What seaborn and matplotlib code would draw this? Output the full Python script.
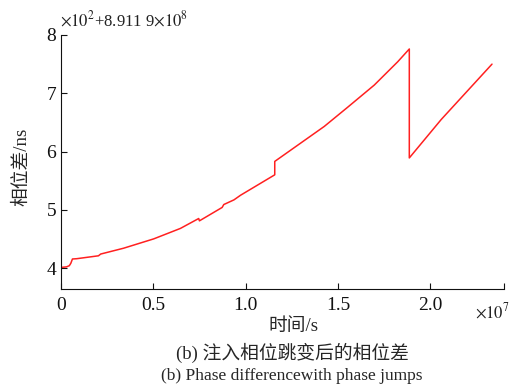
import matplotlib
matplotlib.use("Agg")
import matplotlib.pyplot as plt
import seaborn as sns
import pandas as pd

# time in units of 1e7 s, phase difference in units of 1e2 ns offset
time_e7 = [0, 0.03, 0.045, 0.053, 0.062, 0.085, 0.203, 0.215, 0.339, 0.502,
           0.647, 0.746, 0.750, 0.873, 0.882, 0.937, 0.973, 1.158, 1.158,
           1.426, 1.553, 1.697, 1.824, 1.887, 1.887, 2.06, 2.335]
phase = [4.01, 4.02, 4.04, 4.08, 4.155, 4.16, 4.21, 4.24, 4.34, 4.50,
         4.68, 4.85, 4.81, 5.04, 5.09, 5.17, 5.25, 5.60, 5.83,
         6.43, 6.76, 7.14, 7.54, 7.76, 5.89, 6.55, 7.50]
xticks = [0, 0.5, 1.0, 1.5, 2.0, 2.4]
xticklabels = ["0", "0.5", "1.0", "1.5", "2.0", ""]
yticks = [4, 5, 6, 7, 8]

sns.set_theme(style="ticks")
plt.rcParams['font.family'] = ['Liberation Serif', 'Noto Sans CJK SC']
plt.rcParams['mathtext.fontset'] = 'stix'

df = pd.DataFrame({"t": time_e7, "p": phase})

fig = plt.figure(figsize=(5.22, 3.86), dpi=100)
ax = fig.add_axes([61/522, 1-289/386, (504-61)/522, (289-35)/386])
sns.lineplot(data=df, x="t", y="p", ax=ax, color="#ff2020", linewidth=1.1,
             estimator=None, sort=False)
ax.set_xlim(0, 2.4)
ax.set_ylim(3.64, 8)
ax.set_xticks(xticks)
ax.set_xticklabels(xticklabels)
ax.set_yticks(yticks)
ax.set_yticklabels([str(v) for v in yticks])
ax.tick_params(direction="in", length=4, width=0.8, labelsize=14, colors="#111111")
ax.tick_params(axis="x", pad=6)
ax.set_xlabel("")
ax.set_ylabel("")
for s in ["top", "right"]:
    ax.spines[s].set_visible(False)
for s in ["left", "bottom"]:
    ax.spines[s].set_linewidth(0.8)
    ax.spines[s].set_color("#111111")

mix = ['Liberation Serif', 'Noto Sans CJK SC']
fig.text(22/522, 1-167/386, "相位差/ns", rotation=90, ha="center", va="center",
         fontsize=13.5, family=mix, fontweight="medium")
fig.text(293/522, 1-326/386, "时间/s", ha="center", va="center", fontsize=13.5,
         family=mix, fontweight="medium")
fig.text(292/522, 1-353/386, "(b) 注入相位跳变后的相位差", ha="center", va="center",
         fontsize=13.5, family=mix, fontweight="medium")
fig.text(292/522, 1-376/386, "(b) Phase differencewith phase jumps", ha="center",
         va="center", fontsize=12.5, family=['Liberation Serif'])
fig.text(60/522, 1-20/386, r"$\times10^{2}$+8.911 9$\times10^{8}$", ha="left",
         va="center", fontsize=12, color="#222222")
fig.text(475/522, 1-312/386, r"$\times10^{7}$", ha="left", va="center",
         fontsize=12, color="#222222")

fig.savefig("out.png", dpi=100)
